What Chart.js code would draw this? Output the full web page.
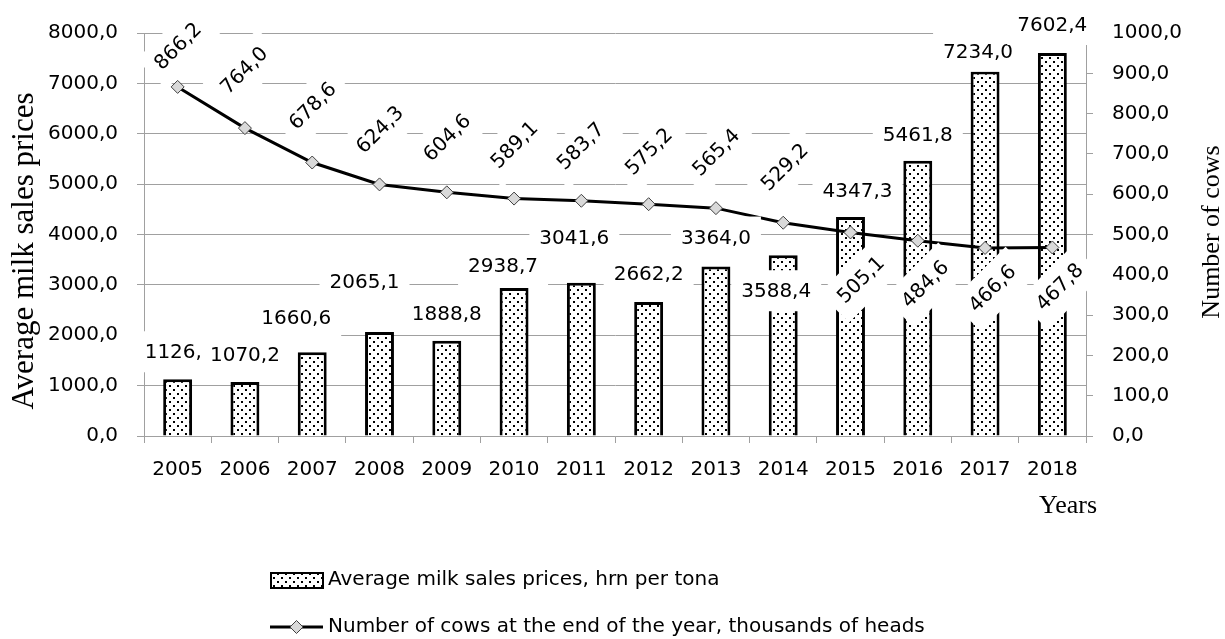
<!DOCTYPE html>
<html>
<head>
<meta charset="utf-8">
<script src="https://cdn.jsdelivr.net/npm/chart.js@4.4.1/dist/chart.umd.min.js"></script>
<style>
  html, body { margin: 0; padding: 0; background: #fff; }
  canvas { display: block; }
</style>
</head>
<body>
<canvas id="chart" width="1225" height="639"></canvas>
<script>
const years = ['2005', '2006', '2007', '2008', '2009', '2010', '2011', '2012', '2013', '2014', '2015', '2016', '2017', '2018']
const milkPrices = [1126.0, 1070.2, 1660.6, 2065.1, 1888.8, 2938.7, 3041.6, 2662.2, 3364.0, 3588.4, 4347.3, 5461.8, 7234.0, 7602.4]
const cows = [866.2, 764.0, 678.6, 624.3, 604.6, 589.1, 583.7, 575.2, 565.4, 529.2, 505.1, 484.6, 466.6, 467.8]
const priceAxis = { max: 8000, step: 1000 }
const cowAxis = { max: 1000, step: 100 }

const pricesLabel = 'Average milk sales prices, hrn per tona'
const cowsLabel = 'Number of cows at the end of the year, thousands of heads'

// label nudges (px, relative to the bar top / the point)
const barLabelDx = [2, 0, -16, -15, 0, -11, -7, 0, 0, -7, 7, 0, -7, 0]
const barLabelDy = [-26, -26, -34, -49, -26, -21, -44, -27, -28, 37, -25, -25, -19, -27]
const lineLabelDx = [1, 0, 1, 1, 1, 1, 0, 1, 1, 2, 11, 8, 8, 8]
const lineLabelDy = [-40, -57, -56, -54, -54, -53, -54, -52, -55, -55, 48, 44, 41, 40]

const sans = 'DejaVu Sans'
const serif = 'Liberation Serif'
const fontSize = 20
const gridGrey = '#a0a0a0'

const fmt = v => v.toFixed(1).replace('.', ',')

// dotted fill like the excel pattern
const makeDots = () => {
  const c = document.createElement('canvas')
  c.width = 8
  c.height = 8
  const g = c.getContext('2d')
  g.fillStyle = '#fff'
  g.fillRect(0, 0, 8, 8)
  g.fillStyle = '#000'
  g.fillRect(1, 1, 2, 2)
  g.fillRect(5, 5, 2, 2)
  return g.createPattern(c, 'repeat')
}
const dots = makeDots()

const valueLabels = {
  id: 'valueLabels',
  afterDatasetsDraw (chart) {
    const { ctx } = chart
    ctx.save()
    ctx.font = `${fontSize}px "${sans}"`
    ctx.textAlign = 'center'
    ctx.textBaseline = 'middle'

    // bar values, white boxed like excel labels
    chart.getDatasetMeta(1).data.forEach((bar, i) => {
      const text = fmt(milkPrices[i])
      const x = bar.x + barLabelDx[i]
      const y = bar.y + barLabelDy[i]
      const w = ctx.measureText(text).width
      ctx.fillStyle = '#fff'
      ctx.fillRect(x - w / 2 - 10, y - 22, w + 20, 41)
      ctx.fillStyle = '#000'
      ctx.fillText(text, x, y)
    })

    // cow values, turned 45 degrees
    chart.getDatasetMeta(0).data.forEach((pt, i) => {
      const text = fmt(cows[i])
      const w = ctx.measureText(text).width
      ctx.save()
      ctx.translate(pt.x + lineLabelDx[i], pt.y + lineLabelDy[i])
      ctx.rotate(-Math.PI / 4)
      ctx.fillStyle = '#fff'
      ctx.fillRect(-w / 2 - 10, -21, w + 20, 42)
      ctx.fillStyle = '#000'
      ctx.fillText(text, 0, 0)
      ctx.restore()
    })
    ctx.restore()
  },
  afterDraw (chart) {
    const { ctx } = chart
    ctx.save()
    ctx.fillStyle = '#000'
    ctx.textAlign = 'center'
    ctx.textBaseline = 'middle'

    // axis titles
    ctx.font = `31px "${serif}"`
    ctx.save()
    ctx.translate(25, 251)
    ctx.rotate(-Math.PI / 2)
    ctx.fillText('Average milk sales prices', 0, 0)
    ctx.restore()

    ctx.font = `26px "${serif}"`
    ctx.save()
    ctx.translate(1212, 232)
    ctx.rotate(-Math.PI / 2)
    ctx.fillText('Number of cows', 0, 0)
    ctx.restore()
    ctx.fillText('Years', 1068, 506)

    // legend
    ctx.font = `${fontSize}px "${sans}"`
    ctx.textAlign = 'left'
    ctx.fillStyle = dots
    ctx.fillRect(271, 573, 52, 15)
    ctx.strokeStyle = '#000'
    ctx.lineWidth = 2
    ctx.strokeRect(271, 573, 52, 15)
    ctx.fillStyle = '#000'
    ctx.fillText(pricesLabel, 328, 580)

    ctx.lineWidth = 3
    ctx.beginPath()
    ctx.moveTo(270, 627)
    ctx.lineTo(323, 627)
    ctx.stroke()
    ctx.beginPath()
    ctx.moveTo(296.5, 620.5)
    ctx.lineTo(303, 627)
    ctx.lineTo(296.5, 633.5)
    ctx.lineTo(290, 627)
    ctx.closePath()
    ctx.fillStyle = '#d9d9d9'
    ctx.fill()
    ctx.lineWidth = 1
    ctx.strokeStyle = '#404040'
    ctx.stroke()
    ctx.fillStyle = '#000'
    ctx.fillText(cowsLabel, 328, 627)
    ctx.restore()
  }
}

const tickFont = { family: sans, size: fontSize }

const chart = new Chart(document.getElementById('chart'), {
  type: 'bar',
  data: {
    labels: years,
    datasets: [
      {
        type: 'line',
        label: cowsLabel,
        data: cows,
        yAxisID: 'y1',
        order: 0,
        borderColor: '#000',
        borderWidth: 3,
        tension: 0,
        pointStyle: 'rectRot',
        pointRadius: 6.5,
        pointBackgroundColor: '#d9d9d9',
        pointBorderColor: '#404040',
        pointBorderWidth: 1
      },
      {
        type: 'bar',
        label: pricesLabel,
        data: milkPrices,
        yAxisID: 'y',
        order: 1,
        backgroundColor: dots,
        borderColor: '#000',
        borderWidth: 3,
        barPercentage: 0.43,
        categoryPercentage: 1
      }
    ]
  },
  options: {
    responsive: false,
    animation: false,
    devicePixelRatio: 1,
    layout: { padding: { top: 33, left: 0, right: 0, bottom: 0 } },
    plugins: {
      legend: { display: false },
      tooltip: { enabled: false }
    },
    scales: {
      x: {
        grid: { drawOnChartArea: false, offset: true, tickLength: 7, color: gridGrey },
        border: { color: gridGrey },
        ticks: { font: tickFont, color: '#000', padding: 15, maxRotation: 0 },
        afterFit: s => { s.height = 203 }
      },
      y: {
        position: 'left',
        min: 0,
        max: priceAxis.max,
        ticks: { stepSize: priceAxis.step, font: tickFont, color: '#000', padding: 19, callback: v => fmt(v) },
        grid: { color: gridGrey, tickLength: 7 },
        border: { color: gridGrey },
        afterFit: s => { s.width = 144 }
      },
      y1: {
        position: 'right',
        min: 0,
        max: cowAxis.max,
        ticks: { stepSize: cowAxis.step, font: tickFont, color: '#000', padding: 19, callback: v => fmt(v) },
        grid: { drawOnChartArea: false, color: gridGrey, tickLength: 7 },
        border: { color: gridGrey },
        afterFit: s => { s.width = 139 }
      }
    }
  },
  plugins: [valueLabels]
})
</script>
</body>
</html>
